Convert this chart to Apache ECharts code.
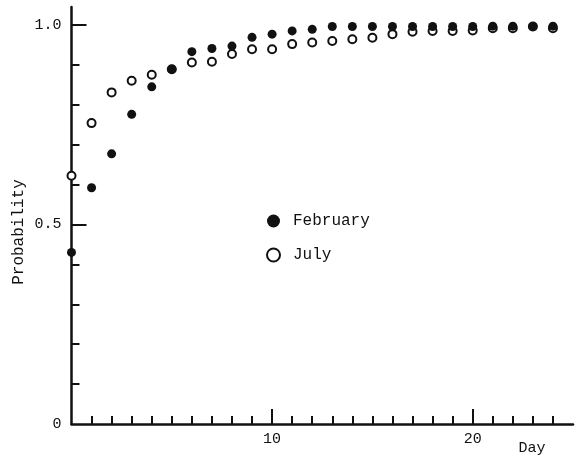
<!DOCTYPE html>
<html>
<head>
<meta charset="utf-8">
<script src="https://cdn.jsdelivr.net/npm/echarts@6/dist/echarts.min.js"></script>
<style>
html,body{margin:0;padding:0;background:#fff;}
#chart{width:575px;height:455px;}
</style>
</head>
<body>
<div id="chart"></div>
<script>
var days = [0,1,2,3,4,5,6,7,8,9,10,11,12,13,14,15,16,17,18,19,20,21,22,23,24];
var february = [0.430,0.592,0.677,0.776,0.845,0.889,0.933,0.941,0.947,0.969,0.977,0.985,0.989,0.996,0.996,0.996,0.996,0.996,0.996,0.996,0.996,0.997,0.997,0.996,0.997];
var july = [0.622,0.754,0.831,0.860,0.875,0.889,0.906,0.908,0.927,0.939,0.939,0.952,0.956,0.960,0.964,0.968,0.977,0.983,0.985,0.985,0.986,0.992,0.992,0.996,0.992];
var xMinorTicks = [1,2,3,4,5,6,7,8,9,10,11,12,13,14,15,16,17,18,19,20,21,22,23,24];
var xMajorTicks = [10,20];
var xTickLabels = [10,20];
var yMinorTicks = [0.1,0.2,0.3,0.4,0.5,0.6,0.7,0.8,0.9,1.0];
var yMajorTicks = [0.5,1.0];
var yTickLabels = [0,0.5,1.0];
var yLabelText = {'0':'0','0.5':'0.5','1':'1.0'};

var FONT = 'Liberation Mono';
var INK = '#111';

function pairs(xs, ys){ return xs.map(function(x,i){ return [x, ys[i]]; }); }

var chart = echarts.init(document.getElementById('chart'), null, {renderer:'canvas'});
chart.setOption({
  animation:false,
  backgroundColor:'#fff',
  grid:{left:71.5, right:2, top:7, bottom:31, containLabel:false, outerBoundsMode:'none'},
  xAxis:[{
    type:'value', min:0, max:25, position:'bottom', offset:0,
    axisLine:{show:true, onZero:false, lineStyle:{color:INK, width:2.5}},
    axisTick:{show:true, inside:true, length:8, customValues:xMinorTicks, lineStyle:{color:INK, width:2}},
    axisLabel:{show:true, customValues:xTickLabels, margin:8, color:INK, fontFamily:FONT, fontSize:15},
    splitLine:{show:false}
  },{
    type:'value', min:0, max:25, position:'bottom', offset:0,
    axisLine:{show:false},
    axisTick:{show:true, inside:true, length:15, customValues:xMajorTicks, lineStyle:{color:INK, width:2}},
    axisLabel:{show:false},
    splitLine:{show:false}
  }],
  yAxis:[{
    type:'value', min:0, max:1.045, position:'left', offset:0,
    axisLine:{show:true, onZero:false, lineStyle:{color:INK, width:2.5}},
    axisTick:{show:true, inside:true, length:8, customValues:yMinorTicks, lineStyle:{color:INK, width:2}},
    axisLabel:{show:true, customValues:yTickLabels, margin:10, color:INK, fontFamily:FONT, fontSize:15,
      formatter:function(v){ return yLabelText[String(v)] !== undefined ? yLabelText[String(v)] : String(v); }},
    splitLine:{show:false}
  },{
    type:'value', min:0, max:1.045, position:'left', offset:0,
    axisLine:{show:false},
    axisTick:{show:true, inside:true, length:15, customValues:yMajorTicks, lineStyle:{color:INK, width:2}},
    axisLabel:{show:false},
    splitLine:{show:false}
  }],
  legend:{
    show:true, orient:'vertical', left:261, top:208, itemWidth:13, itemHeight:13, itemGap:18,
    data:['February','July'],
    textStyle:{color:INK, fontFamily:FONT, fontSize:16, padding:[0,0,0,8]},
    selectedMode:false
  },
  graphic:[
    {type:'text', x:19, y:232, rotation:Math.PI/2, style:{text:'Probability', fill:INK, font:'16px "Liberation Mono"', align:'center', verticalAlign:'middle'}},
    {type:'text', x:532, y:448, style:{text:'Day', fill:INK, font:'15px "Liberation Mono"', align:'center', verticalAlign:'middle'}}
  ],
  series:[{
    name:'July', type:'scatter', xAxisIndex:0, yAxisIndex:0,
    data:pairs(days, july), symbol:'circle', symbolSize:8,
    itemStyle:{color:'#fff', borderColor:INK, borderWidth:2, opacity:1},
    z:2
  },{
    name:'February', type:'scatter', xAxisIndex:0, yAxisIndex:0,
    data:pairs(days, february), symbol:'circle', symbolSize:9,
    itemStyle:{color:INK, borderColor:INK, borderWidth:0, opacity:1},
    z:3
  }]
});
</script>
</body>
</html>
